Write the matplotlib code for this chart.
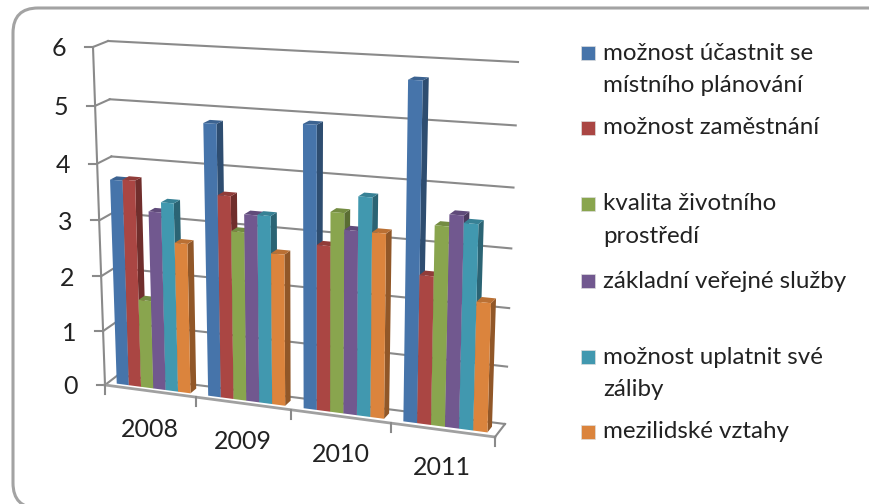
import numpy as np
import matplotlib
matplotlib.use('Agg')
import matplotlib.pyplot as plt
from matplotlib.colors import to_rgb
from matplotlib.patches import FancyBboxPatch, Rectangle
from matplotlib.transforms import Transform

plt.rcParams['font.family'] = ['Lato', 'DejaVu Sans']

years = ['2008', '2009', '2010', '2011']
y_ticks = [0, 1, 2, 3, 4, 5, 6]

uc_plan = [3.7, 4.8, 4.9, 5.72]
zamestnani = [3.72, 3.59, 2.89, 2.55]
prostredi = [1.6, 2.99, 3.47, 3.4]
sluzby = [3.2, 3.3, 3.19, 3.6]
zaliby = [3.38, 3.31, 3.77, 3.48]
vztahy = [2.69, 2.67, 3.19, 2.2]

series = [uc_plan, zamestnani, prostredi, sluzby, zaliby, vztahy]
colors = ['#4674AA', '#AA4643', '#89A54E', '#71588F', '#4198AF', '#DB843D']
legend_lines = [
    ['možnost účastnit se', 'místního plánování'],
    ['možnost zaměstnání'],
    ['kvalita životního', 'prostředí'],
    ['základní veřejné služby'],
    ['možnost uplatnit své', 'záliby'],
    ['mezilidské vztahy'],
]
legend_y = [53, 128, 204, 281, 357, 432]

# pixel corners of the box: left-bottom, right-bottom, right-top, left-top
front = np.array([[105, 385], [495, 437], [505, 69], [93, 47]], float)
back = np.array([[118, 375], [505, 424], [518, 62], [108, 41]], float)


class BoxPlane(Transform):
    # maps (category, value) on a plane inside the 3d box to pixels
    input_dims = 2
    output_dims = 2

    def __init__(self, plane_depth):
        super().__init__()
        corners = front + (back - front) * plane_depth
        src = [(0, 0), (4, 0), (4, 6), (0, 6)]
        A, b = [], []
        for (x, y), (u, v) in zip(src, corners):
            A.append([x, y, 1, 0, 0, 0, -u * x, -u * y])
            A.append([0, 0, 0, x, y, 1, -v * x, -v * y])
            b += [u, v]
        self.h = np.append(np.linalg.solve(np.array(A), np.array(b)), 1).reshape(3, 3)

    def transform_non_affine(self, values):
        pts = np.column_stack([values, np.ones(len(values))])
        out = pts @ self.h.T
        return out[:, :2] / out[:, 2:]

    def inverted(self):
        raise NotImplementedError


def shade(color, k):
    return tuple(c * k for c in to_rgb(color))


fig = plt.figure(figsize=(8.7, 5.04), dpi=100)
ax = fig.add_axes([0, 0, 1, 1])
ax.set_xlim(0, 870)
ax.set_ylim(504, 0)
ax.axis('off')

ax.add_patch(FancyBboxPatch((38, 33), 830, 450, boxstyle='round,pad=25,rounding_size=25',
                            fc='white', ec='#a3a3a3', lw=2.2, clip_on=False))

wall = BoxPlane(1)
face = BoxPlane(0)
grid_c = '#8a8a8a'
grid_w = 1.5

# walls and floor
for v in y_ticks:
    p = wall.transform(np.array([[0, v], [4, v]], float))
    ax.plot(p[:, 0], p[:, 1], color=grid_c, lw=grid_w, zorder=1)
    q = face.transform(np.array([[0, v]], float))[0]
    ax.plot([q[0], p[0, 0]], [q[1], p[0, 1]], color=grid_c, lw=grid_w, zorder=1)
    ax.plot([q[0] - 8, q[0]], [q[1], q[1]], color=grid_c, lw=grid_w, zorder=1)
    ax.text(q[0] - 34, q[1] + 2, str(v), fontsize=18, color='#222222', ha='center', va='center')

p = face.transform(np.array([[0, 0], [0, 6]], float))
ax.plot(p[:, 0], p[:, 1], color=grid_c, lw=grid_w, zorder=1)
p = face.transform(np.array([[0, 0], [4, 0]], float))
ax.plot(p[:, 0], p[:, 1], color='#a0a0a0', lw=2, zorder=1)
q = wall.transform(np.array([[4, 0]], float))[0]
ax.plot([p[1, 0], q[0]], [p[1, 1], q[1]], color=grid_c, lw=grid_w, zorder=1)

for i in range(5):
    q = face.transform(np.array([[i, 0]], float))[0]
    ax.plot([q[0], q[0]], [q[1], q[1] + 9], color=grid_c, lw=grid_w, zorder=1)

for i, year in enumerate(years):
    q = face.transform(np.array([[i + 0.5, 0]], float))[0]
    ax.text(q[0], q[1] + 38, year, fontsize=18, color='#222222', ha='center', va='center')

# bars, drawn left to right so that each covers the side of the one before
d0, d1 = 0.25, 0.7
bar_w = 0.135
pad = 0.095
near = BoxPlane(d0)
far = BoxPlane(d1)
z = 2
for i in range(len(years)):
    for s, vals in enumerate(series):
        x0 = i + pad + s * bar_w
        x1 = x0 + bar_w
        v = vals[i]
        c = colors[s]
        side = np.vstack([near.transform(np.array([[x1, 0], [x1, v]], float)),
                          far.transform(np.array([[x1, v], [x1, 0]], float))])
        top = np.vstack([near.transform(np.array([[x0, v], [x1, v]], float)),
                         far.transform(np.array([[x1, v], [x0, v]], float))])
        ax.fill(side[:, 0], side[:, 1], color=shade(c, 0.66), lw=0, zorder=z)
        ax.fill(top[:, 0], top[:, 1], color=shade(c, 0.85), lw=0, zorder=z + 1)
        ax.bar(x0, v, width=bar_w, align='edge', color=c, lw=0, zorder=z + 2,
               transform=near + ax.transData)
        z += 3

# legend
for lines, y, c in zip(legend_lines, legend_y, colors):
    ax.add_patch(Rectangle((581, y - 7), 14, 14, fc=c, ec='#dddddd', lw=0.5))
    for k, line in enumerate(lines):
        ax.text(603, y + k * 32.5, line, fontsize=17.4, color='#222222', ha='left', va='center')

ax.set_xlim(0, 870)
ax.set_ylim(504, 0)
fig.savefig('out.png', dpi=100)
